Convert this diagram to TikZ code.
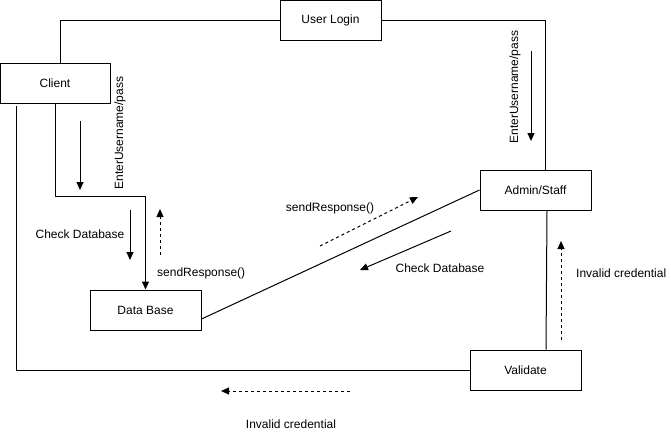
\documentclass[tikz,border=0pt]{standalone}
\usepackage{fontspec}
\setmainfont{Liberation Sans}
\usetikzlibrary{arrows.meta}
\begin{document}
\begin{tikzpicture}[x=1pt,y=-1pt,
  box/.style={draw,line width=1pt,minimum height=40pt,inner sep=0pt,font=\fontsize{12}{14}\selectfont},
  link/.style={line width=1pt},
  msg/.style={line width=1pt,-{Triangle[length=8pt,width=7pt]}},
  dmsg/.style={msg,dash pattern=on 3pt off 3pt},
  lbl/.style={font=\fontsize{12}{14}\selectfont,inner sep=0pt}]
\useasboundingbox (0,0) rectangle (671,440);

% objects
\node[box,minimum width=101pt] (login) at (330.5,20) {User Login};
\node[box,minimum width=110pt] (client) at (55,83) {Client};
\node[box,minimum width=111pt] (admin) at (535.5,190) {Admin/Staff};
\node[box,minimum width=111pt] (db) at (145.5,310) {Data Base};
\node[box,minimum width=111pt] (validate) at (525.5,370) {Validate};

% links between objects
\draw[link] ([xshift=5pt]client.north) |- (login.west);
\draw[link] (login.east) -| ([xshift=9.5pt]admin.north);
\draw[msg] (client.south) -- ++(0,93) -| (db.north);
\coordinate (cl) at (16,106);
\draw[link] (cl) |- (validate.west);
\draw[link] ([yshift=-9pt]db.east) -- (admin.west);
\draw[link] ([xshift=11.5pt]admin.south) -- ([xshift=20.5pt]validate.north);

% messages
\coordinate (m1a) at (80,121);  \coordinate (m1b) at (80,190);
\draw[msg] (m1a) -- (m1b);
\node[lbl,rotate=90] (m1t) at (120,133) {EnterUsername/pass};

\coordinate (m2a) at (531,51);  \coordinate (m2b) at (531,141);
\draw[msg] (m2a) -- (m2b);
\node[lbl,rotate=90] (m2t) at (515,87) {EnterUsername/pass};

\coordinate (m3a) at (130,210); \coordinate (m3b) at (130,260);
\draw[msg] (m3a) -- (m3b);
\node[lbl] (m3t) at (80,234) {Check Database};

\coordinate (m4a) at (160,255); \coordinate (m4b) at (160,209);
\draw[dmsg] (m4a) -- (m4b);
\node[lbl,anchor=west] (m4t) at (157,273) {sendResponse()};

\coordinate (m5a) at (320,246); \coordinate (m5b) at (418,197);
\draw[dmsg] (m5a) -- (m5b);
\node[lbl] (m5t) at (330,208) {sendResponse()};

\coordinate (m6a) at (451,231); \coordinate (m6b) at (360,270);
\draw[msg] (m6a) -- (m6b);
\node[lbl] (m6t) at (440,268) {Check Database};

\coordinate (m7a) at (561,340); \coordinate (m7b) at (561,241);
\draw[dmsg] (m7a) -- (m7b);
\node[lbl,anchor=west] (m7t) at (576,273) {Invalid credential};

\coordinate (m8a) at (350,391); \coordinate (m8b) at (221,391);
\draw[dmsg] (m8a) -- (m8b);
\node[lbl] (m8t) at (291,424) {Invalid credential};
\end{tikzpicture}
\end{document}
